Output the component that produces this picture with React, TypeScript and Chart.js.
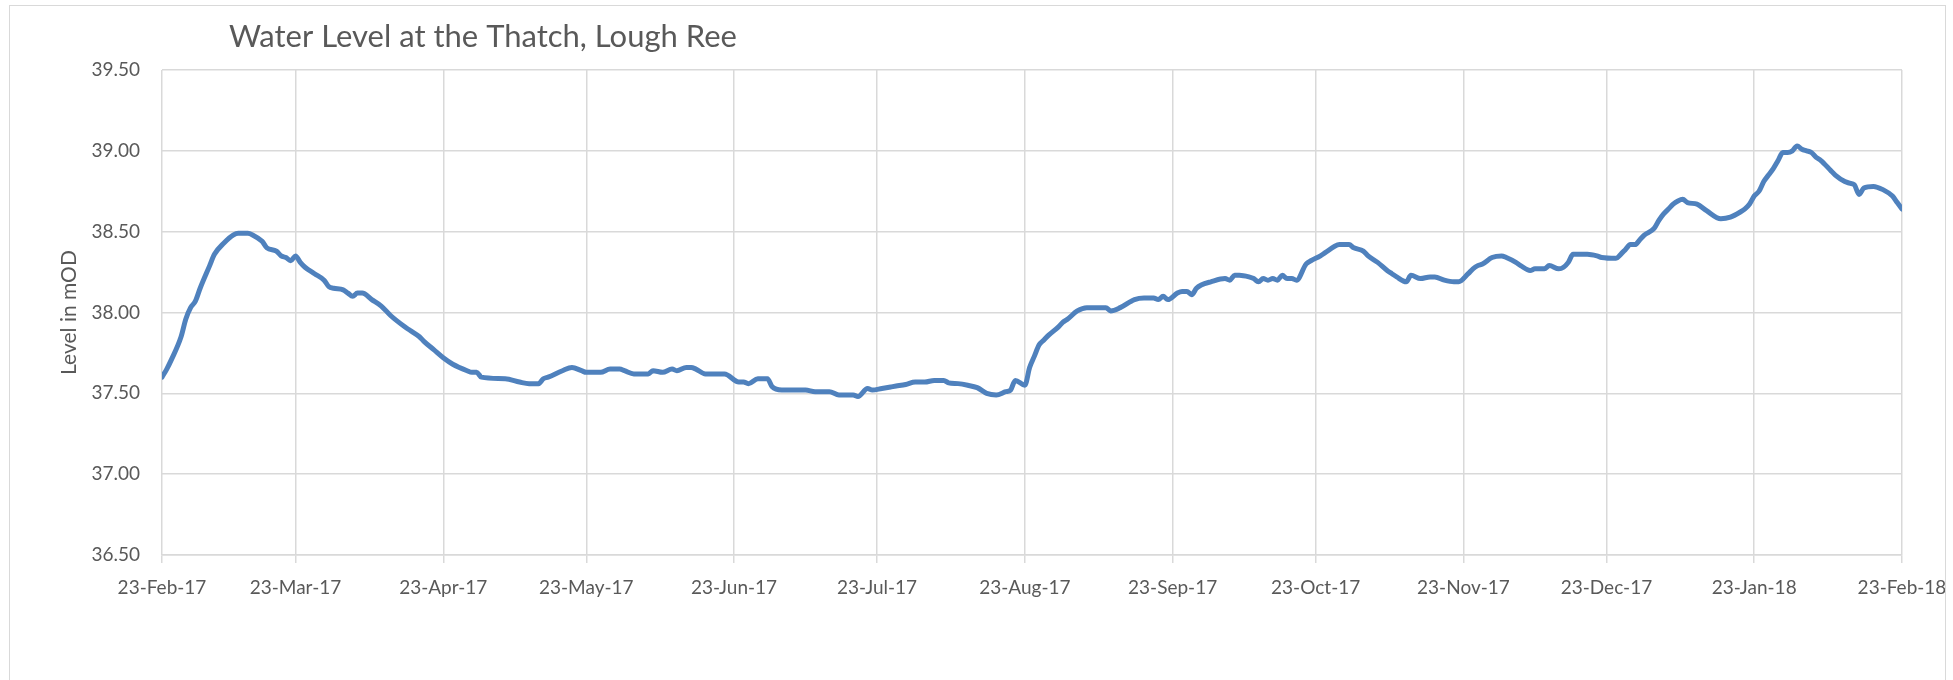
import React, { useEffect, useRef } from 'react';
import { Chart, registerables } from 'chart.js';

Chart.register(...registerables);

const CHART_TITLE = 'Water Level at the Thatch, Lough Ree';
const Y_AXIS_TITLE = 'Level in mOD';

// x tick positions: days since 23-Feb-17
const tickDays = [0, 28, 59, 89, 120, 150, 181, 212, 242, 273, 303, 334, 365];
const tickLabels = [
  '23-Feb-17', '23-Mar-17', '23-Apr-17', '23-May-17', '23-Jun-17', '23-Jul-17',
  '23-Aug-17', '23-Sep-17', '23-Oct-17', '23-Nov-17', '23-Dec-17', '23-Jan-18', '23-Feb-18',
];

// y ticks
const yMin = 36.5;
const yMax = 39.5;
const yStep = 0.5;

// observation days (days since 23-Feb-17)
const dayOffsets = [
  0, 1, 2, 4, 5, 6, 7, 8, 10, 11,
  13, 15, 16, 18, 19, 21, 22, 24, 25, 26,
  27, 28, 29, 30, 32, 34, 35, 36, 38, 39,
  40, 41, 42, 44, 46, 48, 51, 52, 54, 55,
  57, 59, 61, 64, 65, 66, 67, 72, 75, 77,
  79, 80, 81, 84, 86, 88, 89, 92, 94, 96,
  97, 99, 102, 103, 105, 107, 108, 110, 111, 112,
  114, 118, 121, 122, 123, 125, 127, 128, 130, 135,
  137, 140, 142, 145, 146, 148, 149, 151, 153, 154,
  156, 158, 160, 162, 164, 165, 167, 169, 171, 173,
  175, 177, 178, 179, 181, 182, 183, 184, 185, 186,
  188, 189, 190, 192, 194, 198, 199, 201, 204, 206,
  208, 209, 210, 211, 213, 214, 215, 216, 217, 218,
  220, 223, 224, 225, 226, 228, 229, 230, 231, 232,
  233, 234, 235, 236, 237, 238, 240, 241, 243, 244,
  246, 247, 249, 250, 252, 253, 255, 257, 258, 259,
  261, 262, 264, 266, 267, 269, 271, 272, 274, 275,
  276, 277, 279, 281, 282, 284, 285, 287, 288, 290,
  291, 293, 294, 295, 296, 299, 301, 302, 305, 306,
  307, 308, 309, 310, 311, 313, 314, 315, 316, 317,
  318, 319, 320, 322, 324, 327, 329, 331, 332, 333,
  334, 335, 336, 337, 338, 339, 340, 341, 342, 343,
  344, 345, 346, 347, 348, 350, 351, 353, 354, 355,
  356, 357, 359, 361, 363, 364, 365,
];

// water level (mOD)
const levels = [
  37.60, 37.65, 37.71, 37.85, 37.96, 38.03, 38.07, 38.15, 38.29, 38.36,
  38.43, 38.48, 38.49, 38.49, 38.48, 38.44, 38.40, 38.38, 38.35, 38.34,
  38.32, 38.35, 38.31, 38.28, 38.24, 38.20, 38.16, 38.15, 38.14, 38.12,
  38.10, 38.12, 38.12, 38.08, 38.04, 37.98, 37.91, 37.89, 37.85, 37.82,
  37.77, 37.72, 37.68, 37.64, 37.63, 37.63, 37.60, 37.59, 37.57, 37.56,
  37.56, 37.59, 37.60, 37.64, 37.66, 37.64, 37.63, 37.63, 37.65, 37.65,
  37.64, 37.62, 37.62, 37.64, 37.63, 37.65, 37.64, 37.66, 37.66, 37.65,
  37.62, 37.62, 37.57, 37.57, 37.56, 37.59, 37.59, 37.54, 37.52, 37.52,
  37.51, 37.51, 37.49, 37.49, 37.48, 37.53, 37.52, 37.53, 37.54, 37.545,
  37.555, 37.57, 37.57, 37.58, 37.58, 37.565, 37.56, 37.55, 37.535, 37.50,
  37.49, 37.51, 37.52, 37.58, 37.55, 37.66, 37.73, 37.80, 37.83, 37.86,
  37.91, 37.94, 37.96, 38.01, 38.03, 38.03, 38.01, 38.03, 38.08, 38.09,
  38.09, 38.08, 38.10, 38.08, 38.12, 38.13, 38.13, 38.11, 38.15, 38.17,
  38.19, 38.21, 38.20, 38.23, 38.23, 38.22, 38.21, 38.19, 38.21, 38.20,
  38.21, 38.20, 38.23, 38.21, 38.21, 38.20, 38.30, 38.32, 38.35, 38.37,
  38.41, 38.42, 38.42, 38.40, 38.38, 38.35, 38.31, 38.26, 38.24, 38.22,
  38.19, 38.23, 38.21, 38.22, 38.22, 38.20, 38.19, 38.19, 38.24, 38.27,
  38.29, 38.30, 38.34, 38.35, 38.34, 38.31, 38.29, 38.26, 38.27, 38.27,
  38.29, 38.27, 38.28, 38.31, 38.36, 38.36, 38.35, 38.34, 38.335, 38.36,
  38.39, 38.42, 38.42, 38.45, 38.48, 38.52, 38.57, 38.61, 38.64, 38.67,
  38.69, 38.70, 38.68, 38.67, 38.63, 38.58, 38.59, 38.62, 38.64, 38.67,
  38.72, 38.75, 38.81, 38.85, 38.89, 38.94, 38.99, 38.99, 39.00, 39.03,
  39.01, 39.00, 38.99, 38.96, 38.94, 38.88, 38.85, 38.81, 38.80, 38.79,
  38.73, 38.77, 38.78, 38.76, 38.72, 38.68, 38.64,
];

const TEXT_COLOR = '#595959';
const GRID_COLOR = '#D9D9D9';
const LINE_COLOR = '#4F81BD';

const titlePlugin = {
  id: 'leftTitle',
  afterDraw(chart: any) {
    const ctx = chart.ctx as CanvasRenderingContext2D;
    ctx.save();
    ctx.font = '400 31px Lato';
    ctx.fillStyle = TEXT_COLOR;
    ctx.textAlign = 'left';
    ctx.textBaseline = 'alphabetic';
    ctx.fillText(CHART_TITLE, 219, 41);
    ctx.restore();
  },
};

export default function App() {
  const ref = useRef<HTMLCanvasElement | null>(null);

  useEffect(() => {
    if (!ref.current) return;
    Chart.defaults.font.family = 'Lato';
    const chart = new Chart(ref.current, {
      type: 'line',
      data: {
        datasets: [
          {
            label: 'Level',
            data: dayOffsets.map((d, i) => ({ x: d, y: levels[i] })),
            borderColor: LINE_COLOR,
            backgroundColor: LINE_COLOR,
            borderWidth: 5,
            pointRadius: 0,
            cubicInterpolationMode: 'monotone',
            borderJoinStyle: 'round',
            borderCapStyle: 'round',
            fill: false,
          },
        ],
      },
      options: {
        responsive: false,
        animation: false,
        devicePixelRatio: 1,
        layout: { padding: { left: 0, top: 64, right: 43, bottom: 71 } },
        plugins: {
          legend: { display: false },
          tooltip: { enabled: false },
          title: { display: false },
        },
        scales: {
          x: {
            type: 'linear',
            min: tickDays[0],
            max: tickDays[tickDays.length - 1],
            afterBuildTicks: (s: any) => {
              s.ticks = tickDays.map((v) => ({ value: v }));
            },
            afterFit: (s: any) => {
              s.height = 60;
              s.paddingLeft = 0;
              s.paddingRight = 0;
            },
            ticks: {
              autoSkip: false,
              maxRotation: 0,
              minRotation: 0,
              padding: 13,
              color: TEXT_COLOR,
              font: { size: 19, family: 'Lato' },
              callback: (v: any) => {
                const i = tickDays.indexOf(Number(v));
                return i >= 0 ? tickLabels[i] : '';
              },
            },
            grid: { color: GRID_COLOR, lineWidth: 1.5, drawTicks: true, tickLength: 8 },
            border: { color: GRID_COLOR, width: 1.5 },
          },
          y: {
            min: yMin,
            max: yMax,
            afterFit: (s: any) => {
              s.width = 152;
            },
            ticks: {
              stepSize: yStep,
              padding: 22,
              color: TEXT_COLOR,
              font: { size: 19, family: 'Lato' },
              callback: (v: any) => Number(v).toFixed(2),
            },
            grid: { color: GRID_COLOR, lineWidth: 1.5, drawTicks: false },
            border: { display: false },
            title: {
              display: true,
              text: Y_AXIS_TITLE,
              color: TEXT_COLOR,
              font: { size: 21, family: 'Lato' },
              padding: { top: 47, bottom: 0 },
            },
          },
        },
      },
      plugins: [titlePlugin],
    } as any);
    return () => chart.destroy();
  }, []);

  return (
    <div
      style={{
        position: 'fixed',
        left: 9,
        top: 5,
        width: 1937,
        height: 700,
        border: '1px solid #D9D9D9',
        boxSizing: 'border-box',
        background: '#ffffff',
      }}
    >
      <canvas ref={ref} width={1935} height={680} style={{ display: 'block', width: 1935, height: 680 }} />
    </div>
  );
}
